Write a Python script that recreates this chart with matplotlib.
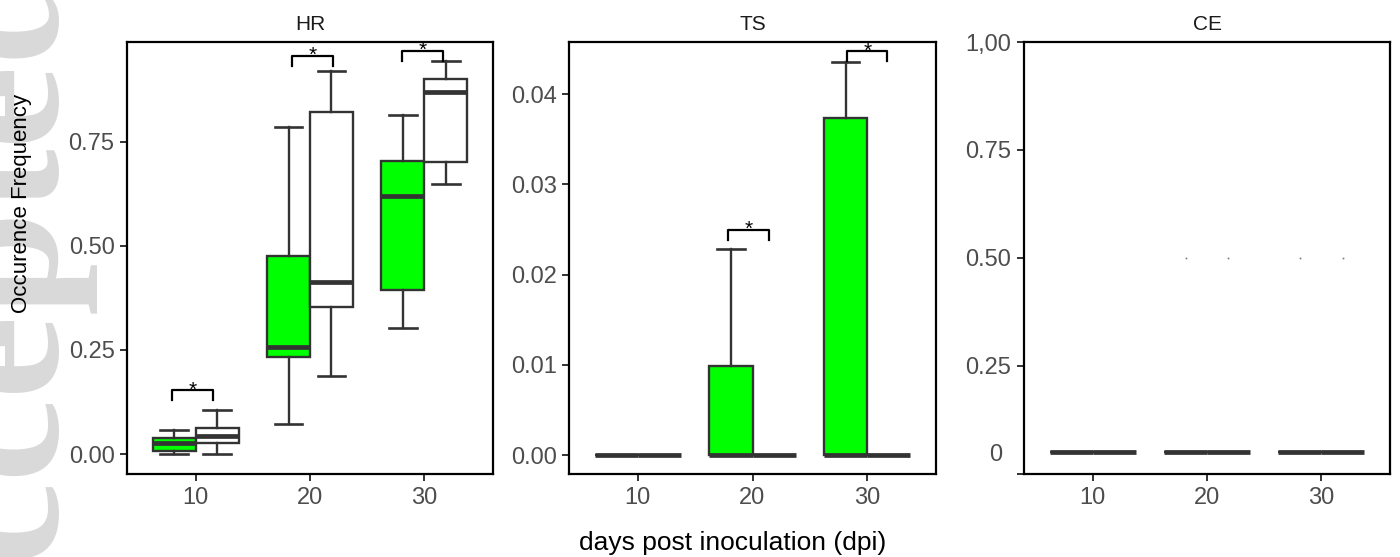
import matplotlib.pyplot as plt
import matplotlib.transforms as mtransforms
from matplotlib.ticker import FixedLocator, FixedFormatter

plt.rcParams['font.family'] = ['Liberation Sans', 'DejaVu Sans']

days = ['10', '20', '30']
pos = [1, 2, 3]

# HR panel (green = first group, white = second group)
hr_green_med = [0.027, 0.257, 0.619]
hr_green_q1 = [0.008, 0.232, 0.393]
hr_green_q3 = [0.038, 0.477, 0.703]
hr_green_lo = [0.0, 0.073, 0.304]
hr_green_hi = [0.058, 0.785, 0.815]

hr_white_med = [0.044, 0.413, 0.869]
hr_white_q1 = [0.027, 0.353, 0.701]
hr_white_q3 = [0.062, 0.823, 0.901]
hr_white_lo = [0.0, 0.187, 0.650]
hr_white_hi = [0.106, 0.921, 0.944]

# TS panel
ts_green_med = [0.0, 0.0, 0.0]
ts_green_q1 = [0.0, 0.0, 0.0]
ts_green_q3 = [0.0, 0.0099, 0.0374]
ts_green_lo = [0.0, 0.0, 0.0]
ts_green_hi = [0.0, 0.0228, 0.0436]

ts_white_med = [0.0, 0.0, 0.0]
ts_white_q1 = [0.0, 0.0, 0.0]
ts_white_q3 = [0.0, 0.0, 0.0]
ts_white_lo = [0.0, 0.0, 0.0]
ts_white_hi = [0.0, 0.0, 0.0]

# CE panel (flat boxes, as drawn on its axis)
ce_level = [0.05, 0.05, 0.05]
ce_dots = [0.5, 0.5, 0.5]   # tiny marks at 20 and 30

# significance brackets: (x left, x right, top, leg end)
hr_brackets = [(0.79, 1.15, 0.154, 0.130),
               (1.843, 2.198, 0.957, 0.933),
               (2.808, 3.166, 0.969, 0.945)]
ts_brackets = [(1.784, 2.143, 0.0250, 0.0239),
               (2.825, 3.175, 0.0448, 0.0437)]

GREEN = '#00ff00'
DARK = '#333333'
W = 0.375


def make_stats(med, q1, q3, lo, hi):
    return [dict(med=med[i], q1=q1[i], q3=q3[i], whislo=lo[i], whishi=hi[i], fliers=[])
            for i in range(len(med))]


def draw_boxes(ax, stats, offset, color):
    ax.bxp(stats, positions=[p + offset for p in pos], widths=W, patch_artist=True,
           showfliers=False, manage_ticks=False, capwidths=0.24,
           boxprops=dict(facecolor=color, edgecolor=DARK, linewidth=1.7),
           medianprops=dict(color=DARK, linewidth=3.4, solid_capstyle='butt'),
           whiskerprops=dict(color=DARK, linewidth=1.7),
           capprops=dict(color=DARK, linewidth=1.9))


def style_axis(ax, title):
    ax.set_xlim(0.4, 3.6)
    ax.set_xticks(pos)
    ax.set_xticklabels(days)
    for s in ax.spines.values():
        s.set_linewidth(1.6)
        s.set_color('black')
    ax.tick_params(axis='both', length=5, width=1.4, color=DARK,
                   labelcolor='#4d4d4d', labelsize=17, pad=4)
    ax.set_title(title, fontsize=15, pad=9, color='#1a1a1a')


def draw_brackets(ax, brackets):
    star_tr = mtransforms.offset_copy(ax.transData, fig=fig, y=-4, units='points')
    for x1, x2, top, leg in brackets:
        ax.plot([x1, x1, x2, x2], [leg, top, top, leg], color='black', lw=1.6)
        ax.text((x1 + x2) / 2, top, '*', ha='center', va='baseline', fontsize=15,
                transform=star_tr, clip_on=True)


fig = plt.figure(figsize=(14, 5.57), dpi=100)

# watermark down the left edge
fig.text(58 / 1400, 1 - 700 / 557, 'Accepted Article', rotation=90, rotation_mode='anchor',
         ha='left', va='baseline', fontsize=135, color='#d9d9d9', weight='bold',
         family='Liberation Serif', zorder=0)

ax1 = fig.add_axes([127 / 1400, 1 - 474 / 557, 366 / 1400, 432 / 557])
ax2 = fig.add_axes([569 / 1400, 1 - 474 / 557, 367 / 1400, 432 / 557])
ax3 = fig.add_axes([1024 / 1400, 1 - 474 / 557, 366 / 1400, 432 / 557])

# HR
draw_boxes(ax1, make_stats(hr_green_med, hr_green_q1, hr_green_q3, hr_green_lo, hr_green_hi),
           -W / 2, GREEN)
draw_boxes(ax1, make_stats(hr_white_med, hr_white_q1, hr_white_q3, hr_white_lo, hr_white_hi),
           W / 2, 'white')
style_axis(ax1, 'HR')
ax1.set_ylim(-0.048, 0.99)
ax1.set_yticks([0, 0.25, 0.5, 0.75])
ax1.set_yticklabels(['0.00', '0.25', '0.50', '0.75'])
draw_brackets(ax1, hr_brackets)

# TS
draw_boxes(ax2, make_stats(ts_green_med, ts_green_q1, ts_green_q3, ts_green_lo, ts_green_hi),
           -W / 2, GREEN)
draw_boxes(ax2, make_stats(ts_white_med, ts_white_q1, ts_white_q3, ts_white_lo, ts_white_hi),
           W / 2, 'white')
style_axis(ax2, 'TS')
ax2.set_ylim(-0.0021, 0.0458)
ax2.set_yticks([0, 0.01, 0.02, 0.03, 0.04])
ax2.set_yticklabels(['0.00', '0.01', '0.02', '0.03', '0.04'])
draw_brackets(ax2, ts_brackets)

# CE
draw_boxes(ax3, make_stats(ce_level, ce_level, ce_level, ce_level, ce_level), -W / 2, GREEN)
draw_boxes(ax3, make_stats(ce_level, ce_level, ce_level, ce_level, ce_level), W / 2, 'white')
ax3.plot([p - W / 2 for p in pos[1:]] + [p + W / 2 for p in pos[1:]],
         ce_dots[1:] + ce_dots[1:], 's', ms=1.2, color='#777777', mew=0)
style_axis(ax3, 'CE')
ax3.set_ylim(0, 1.0)
ax3.set_yticks([0, 0.25, 0.5, 0.75, 1.0])
ax3.set_yticklabels(['', '0.25', '0.50', '0.75', '1,00'])
ax3.yaxis.set_minor_locator(FixedLocator([0.05]))
ax3.yaxis.set_minor_formatter(FixedFormatter(['0']))
ax3.tick_params(axis='y', which='minor', length=0, pad=16, labelsize=17, labelcolor='#4d4d4d')

fig.text(22 / 1400, 1 - 203.5 / 557, 'Occurence Frequency', rotation=90,
         ha='center', va='center', fontsize=16, color='black')
fig.text(733 / 1400, 1 - 543 / 557, 'days post inoculation (dpi)',
         ha='center', va='center', fontsize=19, color='black')

fig.savefig('out.png', dpi=100)
